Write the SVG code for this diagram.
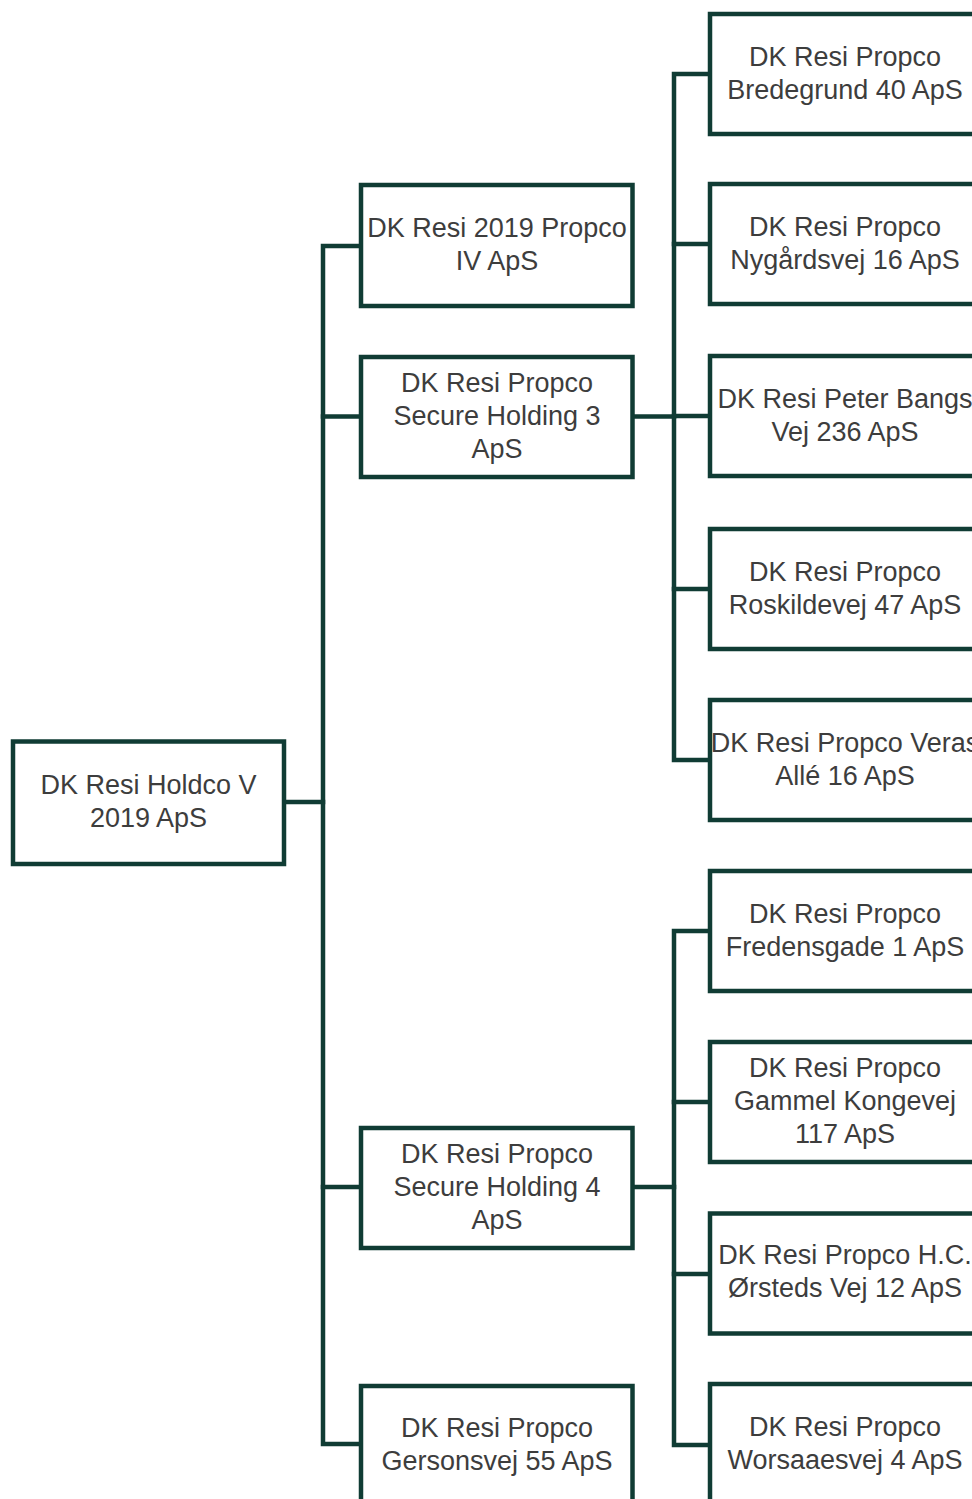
<svg xmlns="http://www.w3.org/2000/svg" width="972" height="1499" viewBox="0 0 972 1499">
<style>
.box{fill:#ffffff;stroke:#103c34;stroke-width:4.5}
.con{fill:none;stroke:#103c34;stroke-width:4.5;stroke-linecap:square}
.t{font-family:"Liberation Sans",Arial,sans-serif;font-size:27px;fill:#3d3d3d;text-anchor:middle}
</style>
<rect width="972" height="1499" fill="#ffffff"/>
<g id="connectors">
<path class="con" d="M284 802 H323" stroke-width="6"/>
<path class="con" d="M361 246 H323 V1444 H361"/>
<path class="con" d="M323 416.5 H361"/>
<path class="con" d="M323 1187 H361"/>
<path class="con" d="M632.5 416.5 H674"/>
<path class="con" d="M710 74 H674 V760 H710"/>
<path class="con" d="M674 244 H710"/>
<path class="con" d="M674 416 H710"/>
<path class="con" d="M674 589 H710"/>
<path class="con" d="M632.5 1187 H674"/>
<path class="con" d="M710 931 H674 V1445 H710"/>
<path class="con" d="M674 1102 H710"/>
<path class="con" d="M674 1274 H710"/>
</g>
<g id="root">
<rect class="box" x="13" y="741.5" width="271" height="122.5"/>
<text class="t" x="148.5" y="794">DK Resi Holdco V</text>
<text class="t" x="148.5" y="827">2019 ApS</text>
</g>
<g id="mid1">
<rect class="box" x="361" y="185" width="271.5" height="121"/>
<text class="t" x="497" y="237">DK Resi 2019 Propco</text>
<text class="t" x="497" y="270">IV ApS</text>
</g>
<g id="mid2">
<rect class="box" x="361" y="357" width="271.5" height="120"/>
<text class="t" x="497" y="392">DK Resi Propco</text>
<text class="t" x="497" y="425">Secure Holding 3</text>
<text class="t" x="497" y="458">ApS</text>
</g>
<g id="mid3">
<rect class="box" x="361" y="1128" width="271.5" height="120"/>
<text class="t" x="497" y="1163">DK Resi Propco</text>
<text class="t" x="497" y="1196">Secure Holding 4</text>
<text class="t" x="497" y="1229">ApS</text>
</g>
<g id="mid4">
<rect class="box" x="361" y="1386" width="271.5" height="120"/>
<text class="t" x="497" y="1437">DK Resi Propco</text>
<text class="t" x="497" y="1470">Gersonsvej 55 ApS</text>
</g>
<g id="r1">
<rect class="box" x="710" y="14" width="272" height="120"/>
<text class="t" x="845" y="66">DK Resi Propco</text>
<text class="t" x="845" y="99">Bredegrund 40 ApS</text>
</g>
<g id="r2">
<rect class="box" x="710" y="184" width="272" height="120"/>
<text class="t" x="845" y="236">DK Resi Propco</text>
<text class="t" x="845" y="269">Nygårdsvej 16 ApS</text>
</g>
<g id="r3">
<rect class="box" x="710" y="356" width="272" height="120"/>
<text class="t" x="845" y="408">DK Resi Peter Bangs</text>
<text class="t" x="845" y="441">Vej 236 ApS</text>
</g>
<g id="r4">
<rect class="box" x="710" y="529" width="272" height="120"/>
<text class="t" x="845" y="581">DK Resi Propco</text>
<text class="t" x="845" y="614">Roskildevej 47 ApS</text>
</g>
<g id="r5">
<rect class="box" x="710" y="700" width="272" height="120"/>
<text class="t" x="845" y="752">DK Resi Propco Veras</text>
<text class="t" x="845" y="785">Allé 16 ApS</text>
</g>
<g id="r6">
<rect class="box" x="710" y="871" width="272" height="120"/>
<text class="t" x="845" y="923">DK Resi Propco</text>
<text class="t" x="845" y="956">Fredensgade 1 ApS</text>
</g>
<g id="r7">
<rect class="box" x="710" y="1042" width="272" height="120"/>
<text class="t" x="845" y="1077">DK Resi Propco</text>
<text class="t" x="845" y="1110">Gammel Kongevej</text>
<text class="t" x="845" y="1143">117 ApS</text>
</g>
<g id="r8">
<rect class="box" x="710" y="1213.5" width="272" height="120"/>
<text class="t" x="845" y="1264">DK Resi Propco H.C.</text>
<text class="t" x="845" y="1297">Ørsteds Vej 12 ApS</text>
</g>
<g id="r9">
<rect class="box" x="710" y="1384" width="272" height="120"/>
<text class="t" x="845" y="1436">DK Resi Propco</text>
<text class="t" x="845" y="1469">Worsaaesvej 4 ApS</text>
</g>
</svg>
